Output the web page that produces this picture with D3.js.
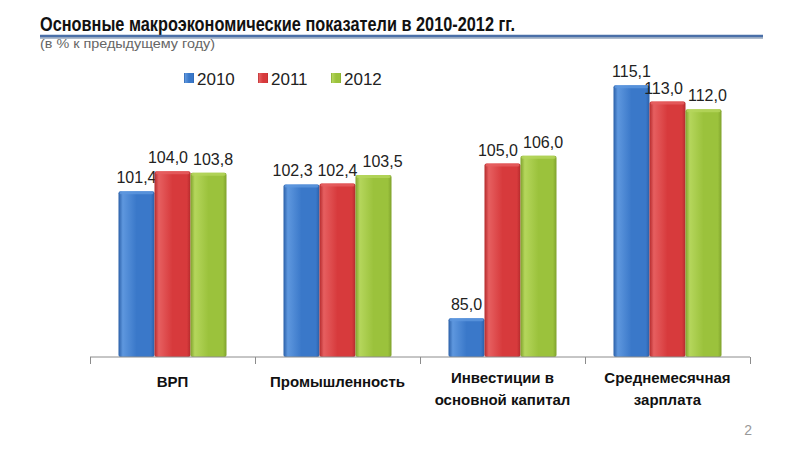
<!DOCTYPE html>
<html>
<head>
<meta charset="utf-8">
<script src="https://cdn.jsdelivr.net/npm/d3@7"></script>
<style>
  body { margin: 0; background: #fff; }
  svg { display: block; font-family: "Liberation Sans", Arial, sans-serif; }
</style>
</head>
<body>
<div id="container"></div>
<script>
// data
const categories = [["ВРП"], ["Промышленность"], ["Инвестиции в", "основной капитал"], ["Среднемесячная", "зарплата"]];
const years = ["2010", "2011", "2012"];
const values2010 = [101.4, 102.3, 85.0, 115.1];
const values2011 = [104.0, 102.4, 105.0, 113.0];
const values2012 = [103.8, 103.5, 106.0, 112.0];
const series = [values2010, values2011, values2012];

const WIDTH = 800;
const HEIGHT = 450;
const colors = [
    { base: "#3a78c9", light: "#5e97de", dark: "#2a5fa8" },
    { base: "#d73a3c", light: "#e65f60", dark: "#b42a2c" },
    { base: "#9bc23c", light: "#b5d65c", dark: "#7fa22c" }
];

const svg = d3.select("#container")
    .append("svg")
    .attr("width", WIDTH)
    .attr("height", HEIGHT);

const defs = svg.append("defs");
colors.forEach((c, i) => {
    const g = defs.append("linearGradient")
        .attr("id", "grad" + i)
        .attr("x1", "0").attr("x2", "1").attr("y1", "0").attr("y2", "0");
    g.append("stop").attr("offset", "0%").attr("stop-color", c.dark);
    g.append("stop").attr("offset", "12%").attr("stop-color", c.light);
    g.append("stop").attr("offset", "50%").attr("stop-color", c.base);
    g.append("stop").attr("offset", "90%").attr("stop-color", c.base);
    g.append("stop").attr("offset", "100%").attr("stop-color", c.dark);
});

// header
svg.append("text")
    .attr("x", 40).attr("y", 31)
    .attr("font-size", 20).attr("font-weight", "bold").attr("fill", "#111")
    .attr("textLength", 475).attr("lengthAdjust", "spacingAndGlyphs")
    .text("Основные макроэкономические показатели в 2010-2012 гг.");

svg.append("line")
    .attr("x1", 40).attr("x2", 763).attr("y1", 37).attr("y2", 37)
    .attr("stroke", "#b0bccc").attr("stroke-width", 4);
svg.append("line")
    .attr("x1", 40).attr("x2", 763).attr("y1", 36).attr("y2", 36)
    .attr("stroke", "#4a6fa8").attr("stroke-width", 2.5);

svg.append("text")
    .attr("x", 40).attr("y", 48)
    .attr("font-size", 12).attr("fill", "#666")
    .attr("textLength", 175).attr("lengthAdjust", "spacingAndGlyphs")
    .text("(в % к предыдущему году)");

// scales
const x0 = d3.scaleBand()
    .domain(d3.range(categories.length))
    .range([90, 750]);

const x1 = d3.scaleBand()
    .domain(d3.range(years.length))
    .range([28.5, x0.bandwidth() - 28.5]);

const y = d3.scaleLinear()
    .domain([80, 120])
    .range([357, 47.4]);

const fmt = (v) => d3.format(".1f")(v).replace(".", ",");

// bars
const groups = svg.selectAll(".group")
    .data(categories)
    .enter()
    .append("g")
    .attr("class", "group")
    .attr("transform", (d, i) => "translate(" + x0(i) + ",0)");

groups.each(function (cat, ci) {
    const g = d3.select(this);
    const labels = [];
    series.forEach((vals, si) => {
        const v = vals[ci];
        g.append("rect")
            .attr("x", x1(si))
            .attr("y", y(v))
            .attr("width", x1.bandwidth())
            .attr("height", y.range()[0] - y(v))
            .attr("rx", 2)
            .attr("fill", "url(#grad" + si + ")");
        g.append("rect")
            .attr("x", x1(si) + 1)
            .attr("y", y(v))
            .attr("width", x1.bandwidth() - 2)
            .attr("height", 3)
            .attr("rx", 1.5)
            .attr("fill", colors[si].light)
            .attr("opacity", 0.8);
        const t = g.append("text")
            .attr("x", x1(si) + x1.bandwidth() / 2)
            .attr("y", y(v) - 8)
            .attr("text-anchor", "middle")
            .attr("font-size", 16)
            .attr("fill", "#222")
            .text(fmt(v));
        labels.push({ node: t, cx: x1(si) + x1.bandwidth() / 2, y: y(v) - 8, w: t.node().getComputedTextLength() });
    });
    // push overlapping labels apart
    const GAP = 5;
    for (let k = 0; k < 4; k++) {
        for (let i = 0; i < labels.length - 1; i++) {
            const a = labels[i], b = labels[i + 1];
            if (Math.abs(a.y - b.y) < 16) {
                const need = (a.w + b.w) / 2 + GAP - (b.cx - a.cx);
                if (need > 0) { a.cx -= need / 2; b.cx += need / 2; }
            }
        }
    }
    labels.forEach((l) => l.node.attr("x", l.cx));
});

// axis
const axis = d3.axisBottom(d3.scaleLinear().domain([0, categories.length]).range([90, 750]))
    .ticks(categories.length)
    .tickSize(7)
    .tickFormat("");

const axisG = svg.append("g")
    .attr("transform", "translate(0,357)")
    .call(axis);
axisG.selectAll("path, line").attr("stroke", "#8c8c8c");
axisG.select(".domain").attr("d", "M90,0H750");

// category labels
categories.forEach((lines, i) => {
    const cx = x0(i) + x0.bandwidth() / 2;
    const t = svg.append("text")
        .attr("text-anchor", "middle")
        .attr("font-size", 15)
        .attr("font-weight", "bold")
        .attr("fill", "#111");
    lines.forEach((line, li) => {
        t.append("tspan")
            .attr("x", cx)
            .attr("y", (lines.length > 1 ? 383 : 387) + li * 22)
            .text(line);
    });
});

// legend
const legendX = [184, 258, 331];
years.forEach((yr, i) => {
    svg.append("rect")
        .attr("x", legendX[i]).attr("y", 73)
        .attr("width", 10).attr("height", 10)
        .attr("fill", "url(#grad" + i + ")");
    svg.append("text")
        .attr("x", legendX[i] + 13).attr("y", 85)
        .attr("font-size", 17).attr("fill", "#222")
        .text(yr);
});

// page number
svg.append("text")
    .attr("x", 752).attr("y", 435)
    .attr("text-anchor", "end")
    .attr("font-size", 14).attr("fill", "#999")
    .text("2");
</script>
</body>
</html>
